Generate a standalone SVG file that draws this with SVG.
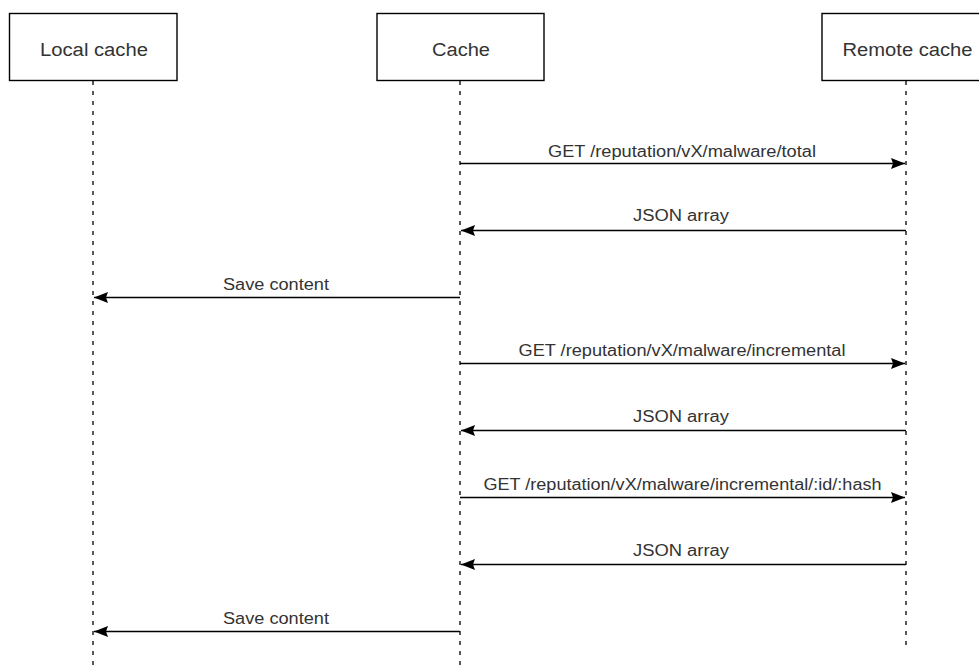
<svg xmlns="http://www.w3.org/2000/svg" width="979" height="671" viewBox="0 0 979 671">
<style>
.box{fill:#fff;stroke:#000;stroke-width:1.4}
.lt{font-family:"Liberation Sans",Arial,sans-serif;font-size:18px;fill:#333;text-anchor:middle}
.ml{font-family:"Liberation Sans",Arial,sans-serif;font-size:16px;fill:#333;text-anchor:middle}
.life{stroke:#000;stroke-width:1.3;stroke-dasharray:4 6;fill:none}
.msg{stroke:#000;stroke-width:1.6;fill:none;marker-end:url(#ah)}
</style>
<defs>
<marker id="ah" viewBox="0 0 14 11" refX="14" refY="5.5" markerWidth="14" markerHeight="11" markerUnits="userSpaceOnUse" orient="auto">
<path d="M0,0 L14,5.5 L0,11 L2,5.5 Z" fill="#000"/>
</marker>
</defs>
<rect width="979" height="671" fill="#fff"/>
<g id="local-cache">
<line class="life" x1="93" y1="81" x2="93" y2="668"/>
<rect class="box" x="9.5" y="13.5" width="167.5" height="67"/>
<text class="lt" x="94" y="55.5" textLength="108" lengthAdjust="spacingAndGlyphs">Local cache</text>
</g>
<g id="cache">
<line class="life" x1="460" y1="81" x2="460" y2="666"/>
<rect class="box" x="377" y="13.5" width="167" height="67"/>
<text class="lt" x="461" y="55.5" textLength="58" lengthAdjust="spacingAndGlyphs">Cache</text>
</g>
<g id="remote-cache">
<line class="life" x1="906" y1="81" x2="906" y2="646"/>
<rect class="box" x="822" y="13.5" width="167" height="67"/>
<text class="lt" x="907.5" y="55.5" textLength="130" lengthAdjust="spacingAndGlyphs">Remote cache</text>
</g>
<g id="connectors">
<line class="msg" x1="460" y1="163.5" x2="905" y2="163.5"/>
<text class="ml" x="682" y="156.5" textLength="268" lengthAdjust="spacingAndGlyphs">GET /reputation/vX/malware/total</text>
<line class="msg" x1="906" y1="230.5" x2="461" y2="230.5"/>
<text class="ml" x="681" y="221" textLength="96" lengthAdjust="spacingAndGlyphs">JSON array</text>
<line class="msg" x1="460" y1="297.5" x2="94" y2="297.5"/>
<text class="ml" x="276" y="290" textLength="106" lengthAdjust="spacingAndGlyphs">Save content</text>
<line class="msg" x1="460" y1="363.5" x2="905" y2="363.5"/>
<text class="ml" x="682" y="356" textLength="327" lengthAdjust="spacingAndGlyphs">GET /reputation/vX/malware/incremental</text>
<line class="msg" x1="906" y1="430.5" x2="461" y2="430.5"/>
<text class="ml" x="681" y="422" textLength="96" lengthAdjust="spacingAndGlyphs">JSON array</text>
<line class="msg" x1="460" y1="497.5" x2="905" y2="497.5"/>
<text class="ml" x="682.5" y="490" textLength="398" lengthAdjust="spacingAndGlyphs">GET /reputation/vX/malware/incremental/:id/:hash</text>
<line class="msg" x1="906" y1="564.5" x2="461" y2="564.5"/>
<text class="ml" x="681" y="556" textLength="96" lengthAdjust="spacingAndGlyphs">JSON array</text>
<line class="msg" x1="460" y1="631.5" x2="94" y2="631.5"/>
<text class="ml" x="276" y="623.5" textLength="106" lengthAdjust="spacingAndGlyphs">Save content</text>
</g>
</svg>
